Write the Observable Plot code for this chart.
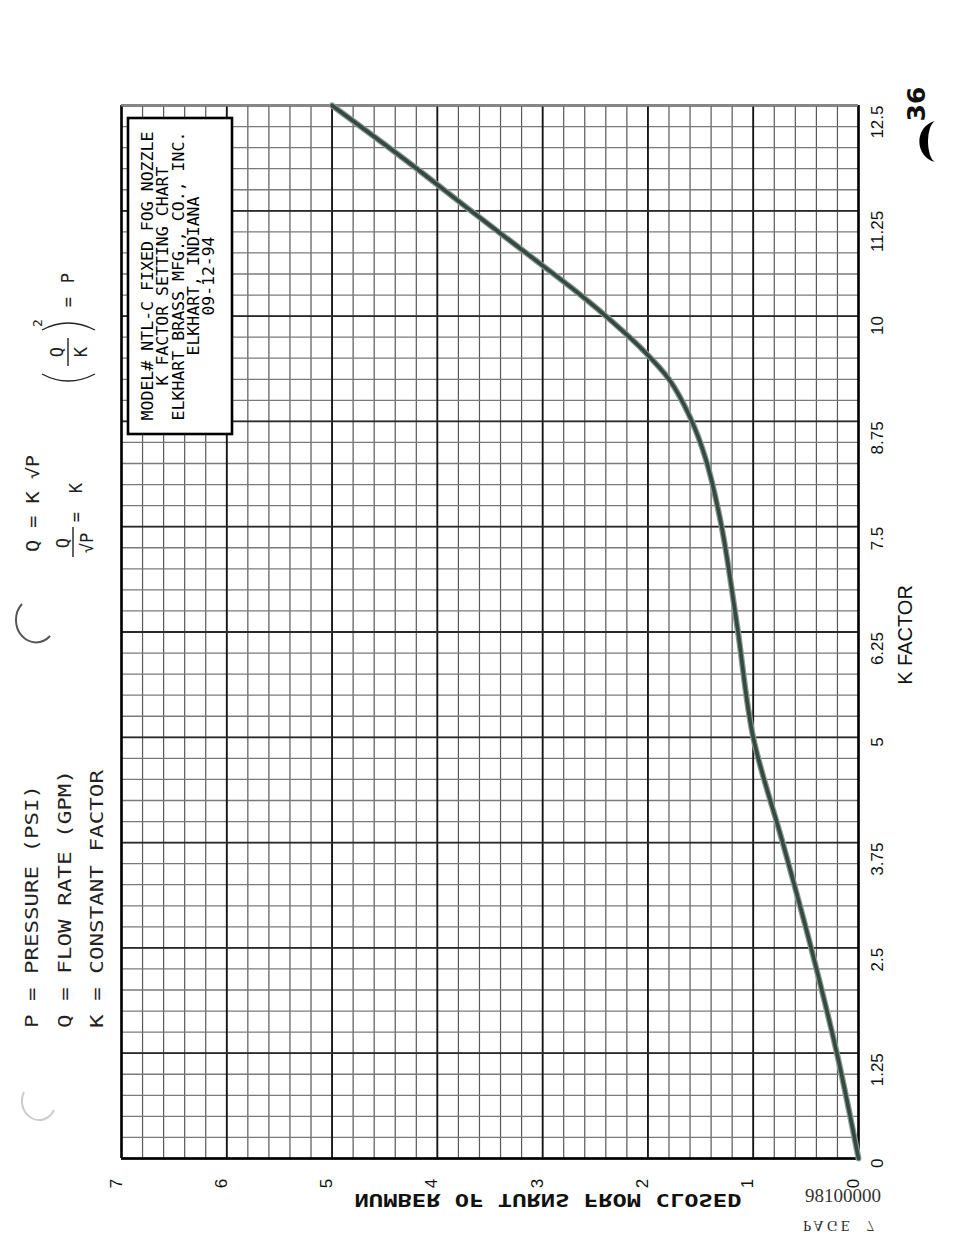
<!DOCTYPE html>
<html>
<head>
<meta charset="utf-8">
<script src="https://cdn.jsdelivr.net/npm/d3@7"></script>
<script src="https://cdn.jsdelivr.net/npm/@observablehq/plot@0.6"></script>
<style>
  html, body { margin: 0; padding: 0; background: #fff; }
  #chart { width: 954px; height: 1235px; overflow: hidden; }
</style>
</head>
<body>
<div id="chart"></div>
<script>
// Nozzle setting curve: K factor reached after a given number of turns from closed
const turns = [0, 0.20, 0.45, 0.72, 1.00, 1.15, 1.30, 1.45, 1.60, 1.80, 2.05, 2.40, 2.73, 3.00, 3.66, 4.30, 5.00];
const kFactor = [0, 1.22, 2.50, 3.75, 5.00, 6.30, 7.50, 8.30, 8.80, 9.25, 9.60, 10.00, 10.34, 10.60, 11.23, 11.85, 12.50];

// Axis tick values and their printed labels
const kTicks = [0, 1.25, 2.5, 3.75, 5, 6.25, 7.5, 8.75, 10, 11.25, 12.5];
const kTickLabels = ["0", "1.25", "2.5", "3.75", "5", "6.25", "7.5", "8.75", "10", "11.25", "12.5"];
const turnTicks = [0, 1, 2, 3, 4, 5, 6, 7];

// Graph paper: fine lines every 0.2 turn / 0.25 K, heavy lines every turn / 1.25 K
const minorTurns = d3.range(0, 7.0001, 0.2).map(v => +v.toFixed(2));
const minorK = d3.range(0, 12.5001, 0.25).map(v => +v.toFixed(2));

const curveData = turns.map((t, i) => ({turns: t, k: kFactor[i]}));

const tickFont = "Liberation Sans, Arial, sans-serif";

const svg = Plot.plot({
  width: 954,
  height: 1235,
  marginLeft: 121,
  marginRight: 96,
  marginTop: 105,
  marginBottom: 77,
  style: {background: "#fff", overflow: "visible", fontFamily: tickFont},
  x: {domain: [0, 7], reverse: true, axis: null},
  y: {domain: [0, 12.5], axis: null},
  marks: [
    Plot.ruleX(minorTurns, {stroke: "#585858", strokeWidth: 1.2}),
    Plot.ruleY(minorK, {stroke: "#7a7a7a", strokeWidth: 1.3}),
    Plot.ruleX(turnTicks, {stroke: "#151515", strokeWidth: 1.8}),
    Plot.ruleY(kTicks, {stroke: "#2a2a2a", strokeWidth: 1.8}),
    // outer border
    Plot.ruleX([0, 7], {stroke: "#000", strokeWidth: 2.4}),
    Plot.ruleY([0], {stroke: "#000", strokeWidth: 2.4}),
    Plot.ruleY([12.5], {stroke: "#888", strokeWidth: 2}),
    // the setting curve
    Plot.line(curveData, {x: "turns", y: "k", curve: "catmull-rom", stroke: "#8a9a94", strokeWidth: 6}),
    Plot.line(curveData, {x: "turns", y: "k", curve: "catmull-rom", stroke: "#34493f", strokeWidth: 3.6}),
    // K factor labels along the right edge
    Plot.text(kTicks, {y: d => d, frameAnchor: "right", dx: 19, rotate: -90,
      text: (d, i) => kTickLabels[i], fontSize: 17, fill: "#111"}),
    // turn labels along the bottom edge
    Plot.text(turnTicks, {x: d => d, frameAnchor: "bottom", dy: 25, rotate: -90,
      text: d => String(d), fontSize: 17, fill: "#111"})
  ]
});

document.getElementById("chart").appendChild(svg);

// ---- sheet annotations ----
const g = d3.select(svg).append("g");
const mono = "DejaVu Sans Mono, Liberation Mono, monospace";

function vtext(x, y, s, o = {}) {
  const t = g.append("text")
    .attr("transform", `translate(${x},${y}) rotate(-90)`)
    .attr("text-anchor", o.anchor || "middle")
    .attr("dominant-baseline", "central")
    .attr("font-family", o.family || mono)
    .attr("font-size", o.size || 14)
    .attr("font-weight", o.weight || "normal")
    .attr("fill", o.fill || "#111")
    .text(s);
  if (o.len) t.attr("textLength", o.len).attr("lengthAdjust", "spacingAndGlyphs");
  return t;
}

// legend of symbols
vtext(32, 1028, "P = PRESSURE (PSI)", {anchor: "start", size: 17, len: 243, fill: "#222"});
vtext(65, 1028, "Q = FLOW RATE (GPM)", {anchor: "start", size: 17, len: 258, fill: "#222"});
vtext(97, 1028, "K = CONSTANT FACTOR", {anchor: "start", size: 17, len: 258, fill: "#222"});

// Q = K sqrt(P)
vtext(33, 552, "Q = K √P", {anchor: "start", size: 17, len: 97, fill: "#222"});

// Q / sqrt(P) = K
vtext(63, 543, "Q", {size: 17, fill: "#222"});
g.append("line").attr("x1", 73).attr("x2", 73).attr("y1", 557).attr("y2", 527).attr("stroke", "#222").attr("stroke-width", 1.4);
vtext(87, 543, "√P", {size: 17, fill: "#222"});
vtext(76, 517, "=", {size: 17, fill: "#222"});
vtext(76, 488, "K", {size: 17, fill: "#222"});

// (Q / K)^2 = P
vtext(57, 352, "Q", {size: 17, fill: "#222"});
g.append("line").attr("x1", 68).attr("x2", 68).attr("y1", 366).attr("y2", 338).attr("stroke", "#222").attr("stroke-width", 1.4);
vtext(81, 352, "K", {size: 17, fill: "#222"});
g.append("path").attr("d", "M 42 374 Q 68 388 95 374").attr("fill", "none").attr("stroke", "#222").attr("stroke-width", 1.4);
g.append("path").attr("d", "M 42 330 Q 68 316 95 330").attr("fill", "none").attr("stroke", "#222").attr("stroke-width", 1.4);
vtext(37, 323, "2", {size: 13, fill: "#222"});
vtext(68, 302, "=", {size: 17, fill: "#222"});
vtext(68, 278, "P", {size: 17, fill: "#222"});

// title block
g.append("rect").attr("x", 128).attr("y", 118).attr("width", 104).attr("height", 316)
  .attr("fill", "#fff").attr("stroke", "#000").attr("stroke-width", 2.6);
const titleLines = [
  "MODEL# NTL-C FIXED FOG NOZZLE",
  "K FACTOR SETTING CHART",
  "ELKHART BRASS MFG., CO., INC.",
  "ELKHART, INDIANA",
  "09-12-94"
];
const titleCols = [148, 163, 179, 194, 209];
titleLines.forEach((s, i) => {
  vtext(titleCols[i], 276, s, {size: 15, len: s.length * 10 - 1, fill: "#000"});
});

// axis titles
vtext(905, 635, "K FACTOR", {family: tickFont, size: 20, fill: "#111"});
g.append("text")
  .attr("transform", "translate(548,1200) scale(1,-1)")
  .attr("text-anchor", "middle").attr("dominant-baseline", "central")
  .attr("font-family", mono).attr("font-size", 18).attr("font-weight", "bold")
  .attr("textLength", 387).attr("lengthAdjust", "spacingAndGlyphs")
  .attr("fill", "#111")
  .text("NUMBER OF TURNS FROM CLOSED");

// file number and page stamp
g.append("text").attr("x", 843).attr("y", 1202).attr("text-anchor", "middle")
  .attr("font-family", "Liberation Serif, serif").attr("font-size", 19).attr("fill", "#333")
  .text("98100000");
g.append("text")
  .attr("transform", "translate(840,1221) scale(1,-1)")
  .attr("text-anchor", "middle")
  .attr("font-family", "Liberation Serif, serif").attr("font-size", 15).attr("fill", "#333")
  .attr("letter-spacing", 3)
  .text("PAGE  7");

// handwritten page number
vtext(916, 104, "36", {family: "DejaVu Sans, sans-serif", size: 25, weight: "bold", fill: "#111"});

// punch-hole marks
g.append("path").attr("d", "M 935 121 A 20 21 0 0 0 935 162 A 9 21 0 0 1 935 121 Z").attr("fill", "#000");
g.append("path").attr("d", "M 22 604 A 17 19 0 0 0 50 636").attr("fill", "none").attr("stroke", "#555").attr("stroke-width", 2);
g.append("path").attr("d", "M 24 1092 A 17 19 0 0 0 54 1110").attr("fill", "none").attr("stroke", "#ccc").attr("stroke-width", 2);
</script>
</body>
</html>
